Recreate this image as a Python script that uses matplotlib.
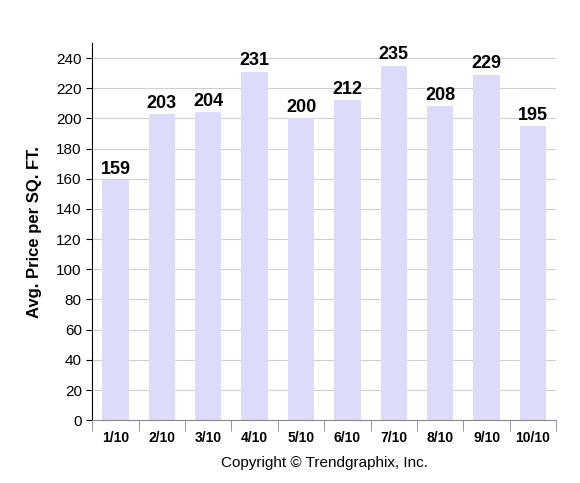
import numpy as np
from matplotlib import pyplot as plt

months = ["1/10", "2/10", "3/10", "4/10", "5/10", "6/10", "7/10", "8/10", "9/10", "10/10"]
prices = [159, 203, 204, 231, 200, 212, 235, 208, 229, 195]

plt.rcParams["font.family"] = ["Liberation Sans", "DejaVu Sans"]
fig = plt.figure(figsize=(5.8, 4.83), dpi=100)
ax = fig.add_axes([0.159, 0.130, 0.800, 0.781])

x = np.arange(len(months))
ax.bar(x, prices, width=0.57, color="#dcdcfa", zorder=2)
for xi, p in zip(x, prices):
    ax.text(xi, p + 1.5, str(p), ha="center", va="bottom", fontsize=13, fontweight="bold")

ax.set_xlim(-0.5, len(months) - 0.5)
ax.set_ylim(0, 250)
ax.set_yticks(range(0, 241, 20))
ax.yaxis.grid(True, color="#d0d0d0", linewidth=0.8, zorder=0)
ax.set_xticks(x)
ax.set_xticklabels(months, fontsize=10, fontweight="bold")
ax.tick_params(axis="x", length=0, pad=8)
ax.set_xticks(np.arange(-0.5, len(months), 1), minor=True)
ax.tick_params(axis="x", which="minor", length=8, color="#888888")
ax.tick_params(axis="y", labelsize=11, length=4)
for s in ["top", "right"]:
    ax.spines[s].set_visible(False)
ax.spines["bottom"].set_color("#888888")
ax.set_ylabel("Avg. Price per SQ. FT.", fontsize=12, fontweight="bold", labelpad=10)
ax.set_xlabel("Copyright \u00a9 Trendgraphix, Inc.", fontsize=11, labelpad=8)

plt.savefig("out.png", dpi=100)
